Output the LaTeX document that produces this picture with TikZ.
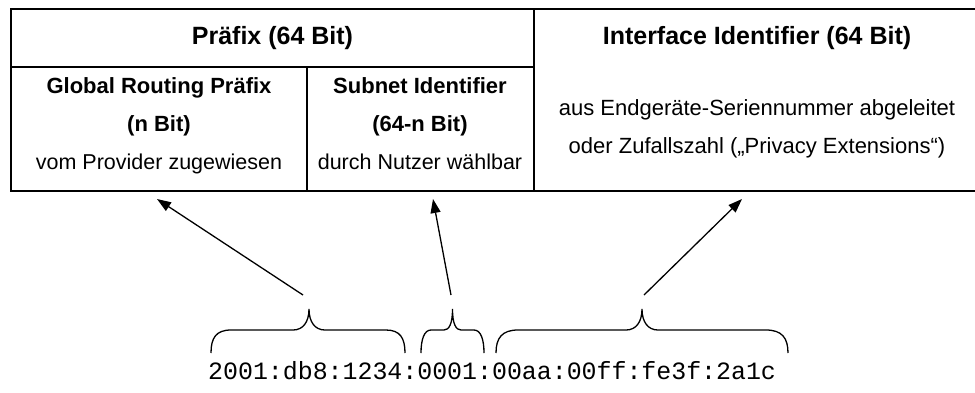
\documentclass[tikz,border=0pt]{standalone}
\usepackage{fontspec}
\setmainfont{Liberation Sans}
\newfontfamily\addrfont{Liberation Mono}
\usetikzlibrary{arrows.meta}
\begin{document}
\begin{tikzpicture}[x=1pt,y=-1pt,
  frame/.style={line width=2pt},
  link/.style={line width=1.3pt,-{Triangle[length=14pt,width=10pt]}},
  brace/.style={line width=1.3pt},
  title/.style={font=\bfseries\fontsize{25}{30}\selectfont,anchor=base},
  sub/.style={font=\bfseries\fontsize{22}{26}\selectfont,anchor=base},
  body/.style={font=\fontsize{21.5}{26}\selectfont,anchor=base},
  note/.style={font=\fontsize{22}{26}\selectfont,anchor=base},
  addr/.style={font=\addrfont\fontsize{24.9}{30}\selectfont,anchor=base west,inner sep=0pt},
]
\clip (0,0) rectangle (975,392);
\fill[white] (0,0) rectangle (975,392);

% address layout table
\draw[frame] (11,9) rectangle (980,191);
\draw[frame] (534,9) -- (534,191);
\draw[frame] (11,67) -- (534,67);
\draw[frame] (307,67) -- (307,191);

\node[title] (prefix) at (272.5,44) {Präfix (64 Bit)};
\node[title] (iid) at (757,44) {Interface Identifier (64 Bit)};

\node[sub]  (grp)  at (159,93)  {Global Routing Präfix};
\node[sub]  (grpn) at (159,131) {(n Bit)};
\node[body] (grpd) at (159,169) {vom Provider zugewiesen};

\node[sub]  (sid)  at (420,93)  {Subnet Identifier};
\node[sub]  (sidn) at (420,131) {(64-n Bit)};
\node[body] (sidd) at (420,169) {durch Nutzer wählbar};

\node[note] (iid1) at (757,115) {aus Endgeräte-Seriennummer abgeleitet};
\node[note] (iid2) at (757,153) {oder Zufallszahl („Privacy Extensions“)};

% example address
\node[addr] (addr) at (208,379) {2001:db8:1234:0001:00aa:00ff:fe3f:2a1c};

% braces over the address groups
\coordinate (b1) at (309,309);
\coordinate (b2) at (452.5,309);
\coordinate (b3) at (642,309);
\draw[brace] (211,353) .. controls (211,338) and (216,330) .. (231,330) -- (293,330)
  .. controls (303,330) and (309,322) .. (b1)
  .. controls (309,322) and (315,330) .. (325,330) -- (386,330)
  .. controls (400,330) and (405,338) .. (405,353);
\draw[brace] (421,353) .. controls (421,340) and (424,330) .. (431,330) -- (444,330)
  .. controls (449,330) and (452.5,324) .. (b2)
  .. controls (452.5,324) and (456,330) .. (461,330) -- (474,330)
  .. controls (481,330) and (484,340) .. (484,353);
\draw[brace] (496,353) .. controls (496,338) and (502,330) .. (518,330) -- (626,330)
  .. controls (636,330) and (642,322) .. (b3)
  .. controls (642,322) and (648,330) .. (658,330) -- (766,330)
  .. controls (782,330) and (788,338) .. (788,353);

% arrows from the groups to the table fields
\coordinate (t1) at (303,295); \coordinate (h1) at (157,199);
\coordinate (t2) at (451,295); \coordinate (h2) at (433,199);
\coordinate (t3) at (644,295); \coordinate (h3) at (742,199);
\draw[link] (t1) -- (h1);
\draw[link] (t2) -- (h2);
\draw[link] (t3) -- (h3);
\end{tikzpicture}
\end{document}
